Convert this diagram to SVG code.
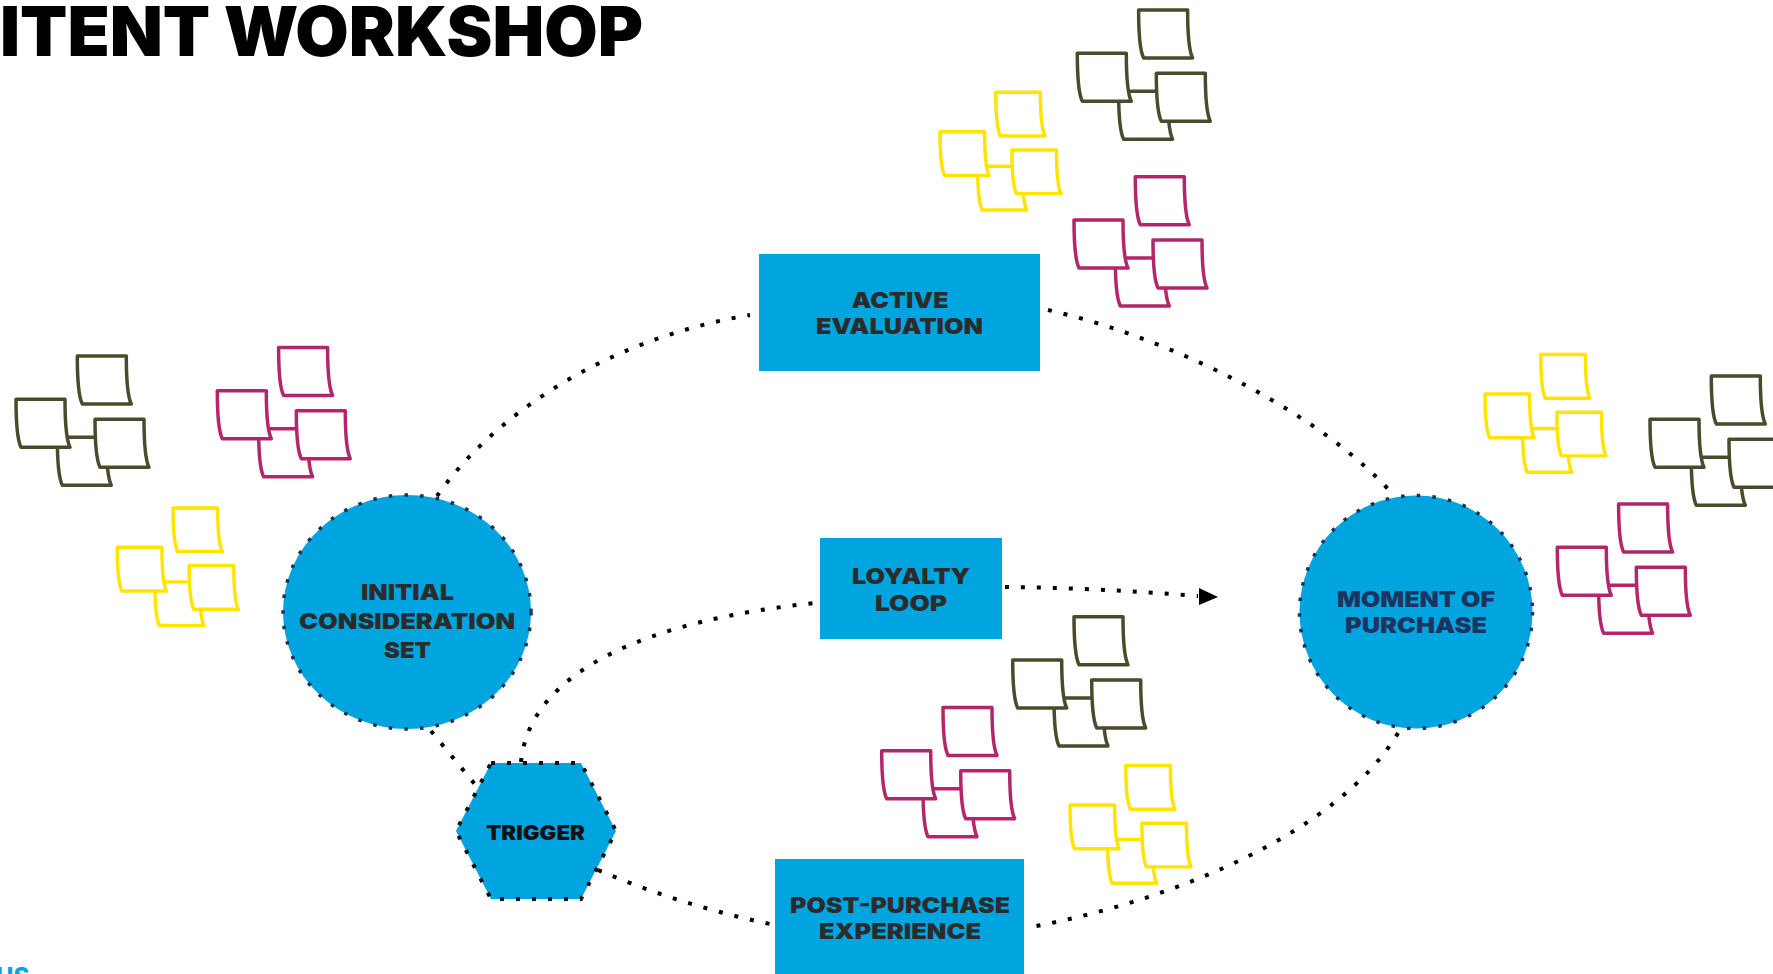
<svg xmlns="http://www.w3.org/2000/svg" width="1773" height="974" viewBox="0 0 1773 974">
<style>
.lbl{font-family:Inter,'Liberation Sans',sans-serif;font-weight:900;font-size:22px;fill:#2b2b2b;text-anchor:middle}
.title{font-family:Inter,'Liberation Sans',sans-serif;font-weight:900;font-size:69px;fill:#000}
.shape{fill:#00a5df}
.cb{fill:none;stroke:#1c3157;stroke-width:3.5;stroke-dasharray:3.5 12.2}
.hb{fill:none;stroke:#111;stroke-width:4;stroke-dasharray:4 12}
.conn{fill:none;stroke:#000;stroke-width:4;stroke-dasharray:4 12}
.st{stroke-width:3.5;stroke-linejoin:round}
.ol{stroke:#4b4a2c}
.mg{stroke:#b4266b}
.yl{stroke:#ffe400;stroke-width:3.8}
</style>
<defs>
<g id="stk" fill="#fff">
<path d="M41.3,38 h49 c0,24 1,40 5,48 h-49 c-4,-8 -5,-24 -5,-48 z"/>
<path d="M0,0 h49 c0,24 1,40 5,48 h-49 c-4,-8 -5,-24 -5,-48 z"/>
<path d="M79,20 h49 c0,24 1,40 5,48 h-49 c-4,-8 -5,-24 -5,-48 z"/>
<path d="M61.3,-43.3 h49 c0,24 1,40 5,48 h-49 c-4,-8 -5,-24 -5,-48 z"/>
</g>
</defs>
<rect width="1773" height="974" fill="#fff"/>
<text class="title" x="0" y="56" textLength="643" lengthAdjust="spacingAndGlyphs">ITENT WORKSHOP</text>
<text x="-4" y="985" font-family="Inter,'Liberation Sans',sans-serif" font-weight="800" font-size="24" fill="#00a5df">US</text>

<g id="stickies">
<use href="#stk" class="st ol" transform="translate(16,399.3)"/>
<use href="#stk" class="st mg" transform="translate(217.3,390.7)"/>
<use href="#stk" class="st yl" transform="translate(117.3,547.3) scale(0.91)"/>
<use href="#stk" class="st ol" transform="translate(1077.3,53.3)"/>
<use href="#stk" class="st yl" transform="translate(940,131.7) scale(0.91)"/>
<use href="#stk" class="st mg" transform="translate(1074,220)"/>
<use href="#stk" class="st yl" transform="translate(1485,394) scale(0.91)"/>
<use href="#stk" class="st ol" transform="translate(1650,419.3)"/>
<use href="#stk" class="st mg" transform="translate(1557.3,547.3)"/>
<use href="#stk" class="st ol" transform="translate(1012.7,660)"/>
<use href="#stk" class="st mg" transform="translate(881.7,750.7)"/>
<use href="#stk" class="st yl" transform="translate(1070,805) scale(0.91)"/>
</g>

<g id="connectors">
<path class="conn" d="M437,496 C490,420 600,340 750,315"/>
<path class="conn" d="M1048,310 C1180,340 1330,420 1395,497"/>
<path class="conn" d="M1398,733 C1340,830 1180,900 1026,928"/>
<path class="conn" d="M598,870 Q680,905 770,924"/>
<path class="conn" d="M431,731 L478,788"/>
<path class="conn" d="M521,762 C530,670 650,620 815,603"/>
<path class="conn" d="M1005,587 Q1100,588 1198,596"/>
<polygon points="1199,588 1218,597 1199,605" fill="#000"/>
</g>

<g id="active-evaluation">
<rect class="shape" x="759" y="254" width="281" height="117"/>
<text class="lbl" x="900" y="308" textLength="97" lengthAdjust="spacingAndGlyphs">ACTIVE</text>
<text class="lbl" x="899.5" y="334" textLength="167" lengthAdjust="spacingAndGlyphs">EVALUATION</text>
</g>

<g id="initial-consideration-set">
<ellipse class="shape" cx="407" cy="612" rx="124" ry="117"/>
<ellipse class="cb" cx="407" cy="612" rx="124" ry="117"/>
<text class="lbl" x="407.5" y="600" textLength="93" lengthAdjust="spacingAndGlyphs">INITIAL</text>
<text class="lbl" x="407" y="629" textLength="216" lengthAdjust="spacingAndGlyphs">CONSIDERATION</text>
<text class="lbl" x="407.5" y="658" textLength="47" lengthAdjust="spacingAndGlyphs">SET</text>
</g>

<g id="moment-of-purchase">
<circle class="shape" cx="1416" cy="612" r="116.5"/>
<circle class="cb" cx="1416" cy="612" r="116.5"/>
<text class="lbl" x="1416" y="607" textLength="158" lengthAdjust="spacingAndGlyphs" style="fill:#1d3461">MOMENT OF</text>
<text class="lbl" x="1416" y="633" textLength="142" lengthAdjust="spacingAndGlyphs" style="fill:#1d3461">PURCHASE</text>
</g>

<g id="loyalty-loop">
<rect class="shape" x="820" y="538" width="182" height="101"/>
<text class="lbl" x="911" y="584" textLength="118" lengthAdjust="spacingAndGlyphs">LOYALTY</text>
<text class="lbl" x="911" y="611" textLength="72" lengthAdjust="spacingAndGlyphs">LOOP</text>
</g>

<g id="trigger">
<polygon class="shape" points="491,763 581,763 616,831 581,899 491,899 456,831"/>
<polygon class="hb" points="491,763 581,763 616,831 581,899 491,899 456,831"/>
<text class="lbl" x="535.5" y="840" textLength="99" lengthAdjust="spacingAndGlyphs" style="fill:#111;font-size:20px">TRIGGER</text>
</g>

<g id="post-purchase-experience">
<rect class="shape" x="775" y="859" width="249" height="120"/>
<text class="lbl" x="900" y="913" textLength="220" lengthAdjust="spacingAndGlyphs">POST-PURCHASE</text>
<text class="lbl" x="900" y="939" textLength="162" lengthAdjust="spacingAndGlyphs">EXPERIENCE</text>
</g>
</svg>
